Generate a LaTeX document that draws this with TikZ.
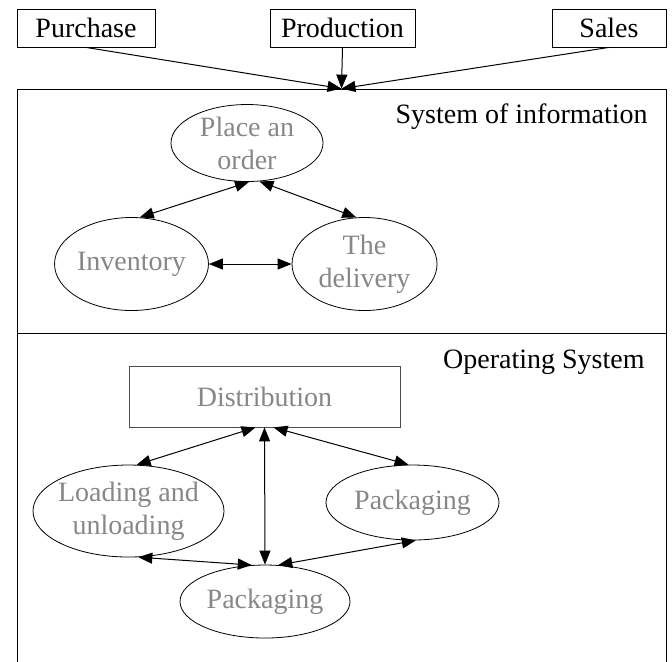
\documentclass[tikz,border=0pt]{standalone}
\usepackage{fontspec}
\setmainfont{Liberation Serif}
\usetikzlibrary{arrows.meta, positioning, shapes.geometric}

\begin{document}
\begin{tikzpicture}[x=0.5pt, y=-0.5pt,
  dept/.style={rectangle, draw=black, fill=white, inner sep=0pt,
               minimum height=19pt, font=\fontsize{14}{16.5}\selectfont},
  panel/.style={rectangle, draw=black, inner sep=0pt, minimum width=324.5pt},
  task/.style={ellipse, draw=black, inner sep=0pt, align=center,
               text=black!47, font=\fontsize{14}{16.5}\selectfont},
  title/.style={anchor=base east, inner sep=0pt, font=\fontsize{14}{16.5}\selectfont},
  arr/.style={-{Triangle[length=7pt,width=5.5pt]}, line width=0.5pt},
  darr/.style={{Triangle[length=7pt,width=5.5pt]}-{Triangle[length=7pt,width=5.5pt]},
               line width=0.5pt}
]
\useasboundingbox (0,0) rectangle (672,661);
% departments on top
\node[dept, minimum width=69pt]   (purchase)   at (86,28)    {Purchase};
\node[dept, minimum width=72.5pt] (production) at (342.5,28) {Production};
\node[dept, minimum width=57pt]   (sales)      at (609,28)   {Sales};
% the two systems
\node[panel, minimum height=122pt]   (info) at (341.5,211)   {};
\node[panel, minimum height=173.5pt] (ops)  at (341.5,506.5) {};
\node[title] (infotitle) at (648,123) {System of information};
\node[title] (opstitle)  at (645,368) {Operating System};
% system of information
\node[task, minimum width=76pt,   minimum height=38.5pt] (order)     at (247,143)   {Place an\\order};
\node[task, minimum width=76.5pt, minimum height=46.5pt] (inventory) at (131.5,264) {Inventory};
\node[task, minimum width=72.5pt, minimum height=46.5pt] (delivery)  at (364.5,264) {The\\delivery};
% operating system
\node[dept, draw=black!70, text=black!47, minimum width=135.5pt, minimum height=30.5pt]
  (distribution) at (264.5,396.5) {Distribution};
\node[task, inner xsep=-4pt, minimum width=95.5pt, minimum height=46pt]
  (loading) at (128.5,511) {Loading and\\unloading};
\node[task, minimum width=86.5pt, minimum height=37.5pt] (packright) at (412.5,502.5) {Packaging};
\node[task, minimum width=85pt,   minimum height=36.5pt] (packlow)  at (265,601.5)  {Packaging};
% inputs
\draw[arr] (purchase.south) -- (info.north);
\draw[arr] (production.south) -- (info.north);
\draw[arr] (sales.south) -- (info.north);
\draw[darr] (inventory.80) -- (order.-87);
\draw[darr] (delivery.100) -- (order.-72);
\draw[darr] (inventory.east) -- (delivery.west);
\draw[darr] (loading.80) -- ([xshift=-4.5pt]distribution.south);
\draw[darr] (packright.96) -- ([xshift=4.5pt]distribution.south);
\draw[darr] (distribution.south) -- (packlow.north);
\draw[darr] (loading.-78) -- (packlow.110);
\draw[darr] (packright.-85) -- (packlow.70);
\end{tikzpicture}
\end{document}
